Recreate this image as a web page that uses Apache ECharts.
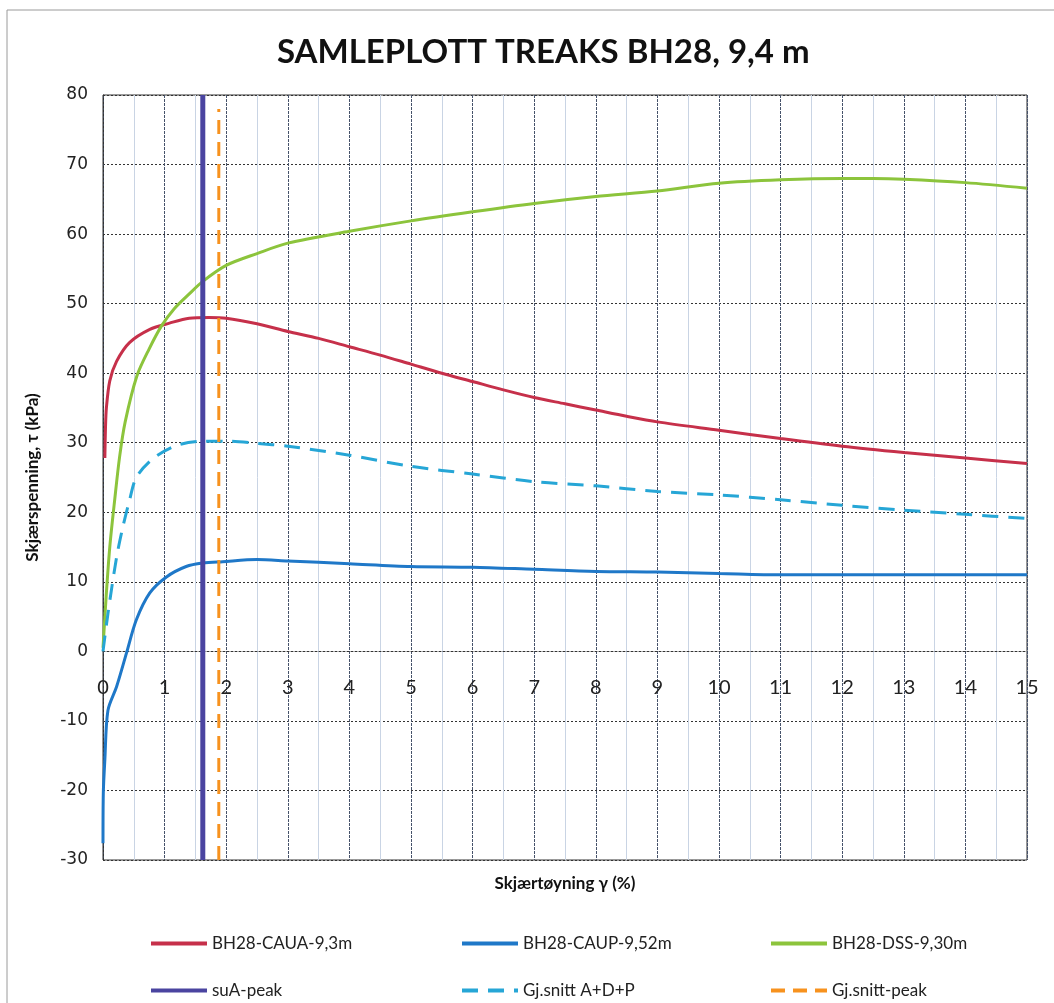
<!DOCTYPE html>
<html>
<head>
<meta charset="utf-8">
<script src="https://cdn.jsdelivr.net/npm/echarts@6/dist/echarts.min.js"></script>
<style>html,body{margin:0;padding:0;background:#fff}#c{width:1054px;height:1003px}</style>
</head>
<body>
<div id="c"></div>
<script>
const titleText = 'SAMLEPLOTT TREAKS BH28, 9,4 m';
const xName = 'Skjærtøyning γ (%)';
const yName = 'Skjærspenning, τ (kPa)';
const seriesNames = ['BH28-CAUA-9,3m','BH28-CAUP-9,52m','BH28-DSS-9,30m','suA-peak','Gj.snitt A+D+P','Gj.snitt-peak'];

const cauaData = [[0.03,27.8],[0.04,32],[0.055,35],[0.11,38.9],[0.22,41.7],[0.43,44.4],[0.76,46.3],[1.08,47.2],[1.4,47.9],[1.72,48.0],[2.0,47.9],[2.5,47.1],[3,46.0],[3.5,45.0],[4,43.8],[4.5,42.6],[5,41.3],[5.5,40.0],[6,38.8],[6.5,37.6],[7,36.5],[7.5,35.6],[8,34.7],[8.5,33.8],[9,33.0],[10,31.8],[11,30.6],[12,29.5],[13,28.6],[14,27.8],[15,27.0]];
const caupData = [[0,-27.6],[0.005,-20.4],[0.03,-15.6],[0.08,-8.5],[0.22,-5.1],[0.38,-0.3],[0.54,4.5],[0.76,8.4],[1.03,10.7],[1.35,12.2],[1.62,12.7],[1.94,12.9],[2.5,13.2],[3,13.0],[4,12.6],[5,12.2],[6,12.1],[7,11.8],[8,11.5],[9,11.4],[10,11.2],[11,11.0],[12,11.0],[13,11.0],[14,11.0],[15,11.0]];
const dssData = [[0,0.5],[0.055,8.4],[0.11,15],[0.19,21.8],[0.27,28],[0.36,33],[0.55,39.6],[0.75,43.5],[0.95,46.8],[1.15,49.2],[1.4,51.4],[1.62,53.2],[2.0,55.5],[2.5,57.2],[3,58.7],[4,60.4],[5,61.9],[6,63.2],[7,64.4],[8,65.4],[9,66.2],[10,67.3],[11,67.8],[12,68.0],[12.5,68.0],[13,67.9],[14,67.4],[15,66.6]];
const suaPeakData = [[1.62,-30],[1.62,80]];
const avgData = [[0,0],[0.08,5.4],[0.22,13.5],[0.32,17.8],[0.43,21.7],[0.54,25],[0.81,27.7],[1.19,29.6],[1.62,30.2],[2.06,30.2],[2.5,29.9],[3,29.5],[4,28.2],[5,26.6],[6,25.5],[7,24.4],[8,23.8],[9,23.0],[10,22.5],[11,21.8],[12,21.0],[13,20.3],[14,19.7],[15,19.1]];
const avgPeakData = [[1.88,-30],[1.88,78]];

const chart = echarts.init(document.getElementById('c'), null, {renderer:'canvas'});

function lineSeries(name, data, color, width, type, smooth){
  return {name:name, type:'line', data:data, symbol:'none', smooth:smooth, animation:false,
    lineStyle:{color:color, width:width, type:type}, itemStyle:{color:color}};
}
const colors = ['#c6304a','#1f78c8','#8cc43c','#4a44a0','#26a6d6','#f7921e'];
const legendPos = [[144,930],[455,930],[764,930],[144,977],[455,977],[764,977]];
const legends = seriesNames.map((n,i)=>({
  data:[n], left:legendPos[i][0], top:legendPos[i][1], itemWidth:56, itemHeight:14, itemGap:4,
  itemStyle:{opacity:0, borderWidth:0},
  lineStyle:{width:4},
  textStyle:{fontFamily:'Lato', fontSize:17, color:'#222'}
}));

chart.setOption({
  animation:false,
  backgroundColor:'#fff',
  title:{text:titleText, left:272, top:31, textStyle:{fontFamily:'Lato', fontWeight:'bold', fontSize:33, color:'#111'}},
  legend:legends,
  graphic:[{type:'rect', shape:{x:7,y:10,width:1100,height:1100}, style:{fill:'none', stroke:'#9a9a9a', lineWidth:1}, silent:true}],
  grid:{left:103, right:27, top:95, bottom:143, containLabel:false, outerBoundsMode:'none', show:true, borderColor:'#333', borderWidth:1},
  xAxis:{type:'value', min:0, max:15, interval:1, position:'bottom', offset:-208.6,
    name:xName, nameLocation:'middle', nameGap:224,
    nameTextStyle:{fontFamily:'Lato', fontWeight:'bold', fontSize:17, color:'#111'},
    axisLine:{onZero:false, lineStyle:{color:'#333', type:[2,2]}}, axisTick:{show:false},
    axisLabel:{fontFamily:'Lato', fontSize:20, color:'#222', margin:26},
    splitLine:{show:true, lineStyle:{color:'#46526a', width:1, type:[3,1]}},
    minorTick:{show:false, splitNumber:2},
    minorSplitLine:{show:true, lineStyle:{color:'#c9d4e4', width:1}}},
  yAxis:{type:'value', min:-30, max:80, interval:10, name:yName, nameLocation:'middle', nameGap:62,
    nameTextStyle:{fontFamily:'Lato', fontWeight:'bold', fontSize:17, color:'#111'},
    axisLine:{show:true, onZero:false, lineStyle:{color:'#333', type:[2,2]}}, axisTick:{show:false},
    axisLabel:{fontFamily:'DejaVu Sans', fontSize:17, color:'#222', margin:15},
    splitLine:{show:true, lineStyle:{color:'#333', width:1, type:[2,2]}}},
  series:[
    lineSeries(seriesNames[0], cauaData, colors[0], 3, 'solid', 0.3),
    lineSeries(seriesNames[1], caupData, colors[1], 3, 'solid', 0.3),
    lineSeries(seriesNames[2], dssData, colors[2], 3, 'solid', 0.3),
    lineSeries(seriesNames[3], suaPeakData, colors[3], 5, 'solid', false),
    lineSeries(seriesNames[4], avgData, colors[4], 3, [16,10], 0.3),
    lineSeries(seriesNames[5], avgPeakData, colors[5], 3, [14,8], false)
  ]
});
</script>
</body>
</html>
